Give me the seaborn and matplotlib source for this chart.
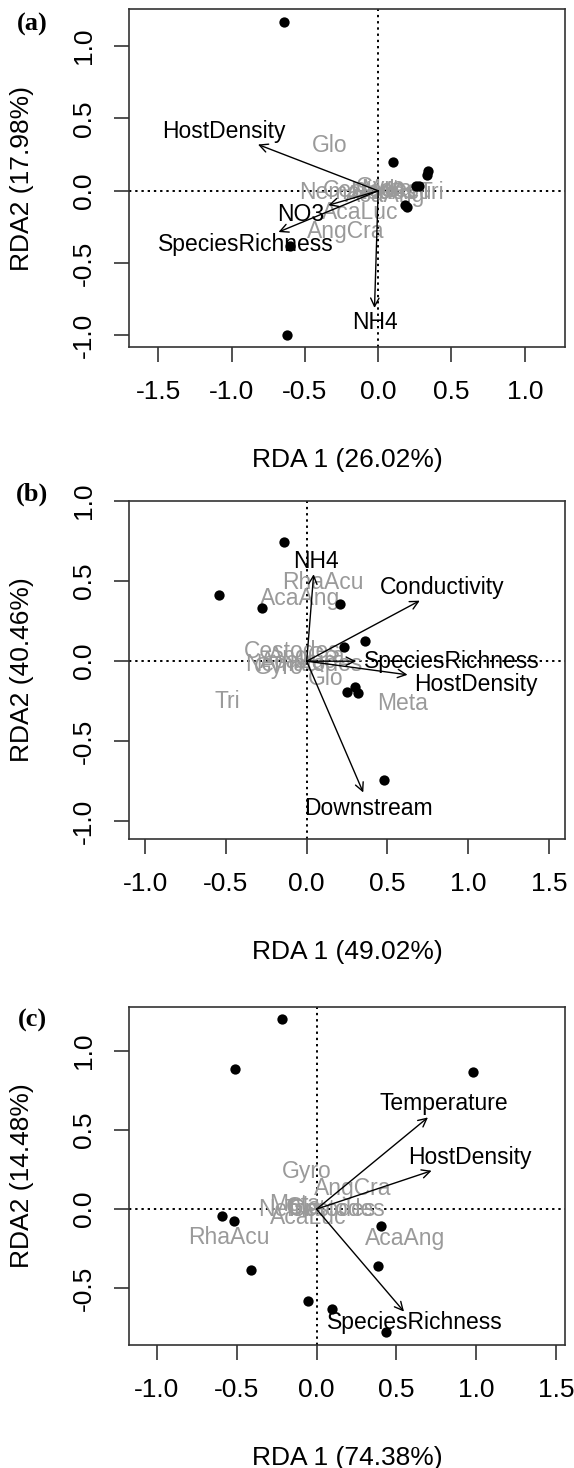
import matplotlib
matplotlib.use('Agg')
import matplotlib.pyplot as plt
import seaborn as sns
import pandas as pd

GREY = '#9a9a9a'

# site scores per panel
a_site_x = [-0.64, -0.62, -0.60, 0.10, 0.34, 0.33, 0.26, 0.28, 0.18, 0.20]
a_site_y = [1.17, -0.995, -0.385, 0.20, 0.14, 0.11, 0.03, 0.03, -0.10, -0.11]
b_site_x = [-0.14, -0.54, -0.276, 0.203, 0.228, 0.358, 0.25, 0.30, 0.317, 0.476]
b_site_y = [0.746, 0.416, 0.335, 0.358, 0.091, 0.129, -0.19, -0.164, -0.20, -0.74]
c_site_x = [-0.214, -0.509, 0.979, -0.59, -0.52, 0.405, -0.41, 0.387, -0.055, 0.094, 0.438]
c_site_y = [1.203, 0.886, 0.867, -0.046, -0.074, -0.105, -0.382, -0.357, -0.584, -0.633, -0.78]

# environmental vectors: name, tip, label position
a_env = ['HostDensity', 'NO3', 'SpeciesRichness', 'NH4']
a_env_x = [-0.82, -0.34, -0.68, -0.025]
a_env_y = [0.32, -0.10, -0.285, -0.81]
a_lab_x = [-1.05, -0.53, -0.90, -0.025]
a_lab_y = [0.41, -0.165, -0.37, -0.91]

b_env = ['NH4', 'Conductivity', 'SpeciesRichness', 'HostDensity', 'Downstream']
b_env_x = [0.043, 0.70, 0.305, 0.624, 0.35]
b_env_y = [0.543, 0.378, 0.0, -0.085, -0.82]
b_lab_x = [0.055, 0.84, 0.90, 1.045, 0.38]
b_lab_y = [0.62, 0.46, 0.0, -0.148, -0.92]

c_env = ['Temperature', 'HostDensity', 'SpeciesRichness']
c_env_x = [0.698, 0.721, 0.548]
c_env_y = [0.58, 0.243, -0.648]
c_lab_x = [0.795, 0.963, 0.613]
c_lab_y = [0.667, 0.327, -0.717]

# species scores (grey labels)
species = ['Glo', 'Tri', 'Gyro', 'Meta', 'RhaAcu', 'AcaAng', 'AcaLuc', 'AngCra', 'Nematodes', 'Cestodes']
a_sp_x = [-0.33, 0.36, 0.02, 0.06, 0.09, 0.05, -0.12, -0.22, -0.14, -0.05]
a_sp_y = [0.31, -0.01, 0.02, 0.01, -0.01, -0.03, -0.15, -0.28, -0.01, 0.0]
b_sp_x = [0.12, -0.49, -0.17, 0.595, 0.10, -0.04, -0.05, 0.0, -0.02, -0.09]
b_sp_y = [-0.11, -0.25, -0.04, -0.266, 0.49, 0.39, 0.0, 0.03, -0.02, 0.06]
c_sp_x = [-0.08, -0.12, -0.06, -0.14, -0.55, 0.555, -0.05, 0.226, 0.0, 0.13]
c_sp_y = [0.01, 0.0, 0.24, 0.03, -0.18, -0.184, -0.05, 0.129, 0.0, 0.0]

panels = [
    dict(tag='(a)', xl='RDA 1 (26.02%)', yl='RDA2 (17.98%)',
         sx=a_site_x, sy=a_site_y, env=a_env, ex=a_env_x, ey=a_env_y, lx=a_lab_x, ly=a_lab_y,
         px=a_sp_x, py=a_sp_y, xlim=(-1.70, 1.276), ylim=(-1.08, 1.256),
         xt=[-1.5, -1.0, -0.5, 0.0, 0.5, 1.0], yt=[-1.0, -0.5, 0.0, 0.5, 1.0],
         bottom=0.7636, tag_y=1 - 24 / 1468),
    dict(tag='(b)', xl='RDA 1 (49.02%)', yl='RDA2 (40.46%)',
         sx=b_site_x, sy=b_site_y, env=b_env, ex=b_env_x, ey=b_env_y, lx=b_lab_x, ly=b_lab_y,
         px=b_sp_x, py=b_sp_y, xlim=(-1.10, 1.60), ylim=(-1.11, 1.00),
         xt=[-1.0, -0.5, 0.0, 0.5, 1.0, 1.5], yt=[-1.0, -0.5, 0.0, 0.5, 1.0],
         bottom=0.4285, tag_y=1 - 494 / 1468),
    dict(tag='(c)', xl='RDA 1 (74.38%)', yl='RDA2 (14.48%)',
         sx=c_site_x, sy=c_site_y, env=c_env, ex=c_env_x, ey=c_env_y, lx=c_lab_x, ly=c_lab_y,
         px=c_sp_x, py=c_sp_y, xlim=(-1.175, 1.558), ylim=(-0.859, 1.278),
         xt=[-1.0, -0.5, 0.0, 0.5, 1.0, 1.5], yt=[-0.5, 0.0, 0.5, 1.0],
         bottom=0.0838, tag_y=1 - 1020 / 1468),
]

sns.set_theme(style='white')
plt.rcParams['font.family'] = ['Liberation Sans', 'DejaVu Sans']

fig = plt.figure(figsize=(5.74, 14.68), dpi=100)

for p in panels:
    ax = fig.add_axes([0.2247, p['bottom'], 0.760, 0.2302])
    ax.axhline(0, ls=(0, (1.2, 2)), color='black', lw=1.4, zorder=1)
    ax.axvline(0, ls=(0, (1.2, 2)), color='black', lw=1.4, zorder=1)

    sites = pd.DataFrame({'x': p['sx'], 'y': p['sy']})
    sns.scatterplot(data=sites, x='x', y='y', ax=ax, color='black', s=55,
                    linewidth=0, zorder=3)

    for name, sx, sy in zip(species, p['px'], p['py']):
        ax.text(sx, sy, name, color=GREY, fontsize=16.5, ha='center', va='center', zorder=2)

    for name, ex, ey, lx, ly in zip(p['env'], p['ex'], p['ey'], p['lx'], p['ly']):
        ax.annotate('', xy=(ex, ey), xytext=(0, 0),
                    arrowprops=dict(arrowstyle='->,head_length=0.5,head_width=0.25',
                                    color='black', lw=1.0, shrinkA=0, shrinkB=0,
                                    mutation_scale=12), zorder=4)
        ax.text(lx, ly, name, color='black', fontsize=16.5, ha='center', va='center', zorder=5)

    ax.set_xlim(*p['xlim'])
    ax.set_ylim(*p['ylim'])
    ax.set_xticks(p['xt'])
    ax.set_yticks(p['yt'])
    ax.set_xticklabels([f'{v:.1f}' for v in p['xt']])
    ax.set_yticklabels([f'{v:.1f}' for v in p['yt']], rotation=90, va='center')
    ax.tick_params(axis='both', direction='out', length=11, width=1.2, color='#333333',
                   labelsize=19, labelcolor='black', pad=13, bottom=True, left=True)
    for sp in ax.spines.values():
        sp.set_color('#333333')
        sp.set_linewidth(1.2)

    ax.set_xlabel(p['xl'], fontsize=19, color='black', va='center')
    ax.set_ylabel(p['yl'], fontsize=19, color='black', va='center')
    ax.xaxis.set_label_coords(0.5, -0.334)
    ax.yaxis.set_label_coords(-0.245, 0.5)

    fig.text(0.056, p['tag_y'], p['tag'], fontsize=19, fontweight='bold', color='black',
             family='Liberation Serif', ha='center', va='center')

fig.savefig('out.png', dpi=100)
plt.close()
